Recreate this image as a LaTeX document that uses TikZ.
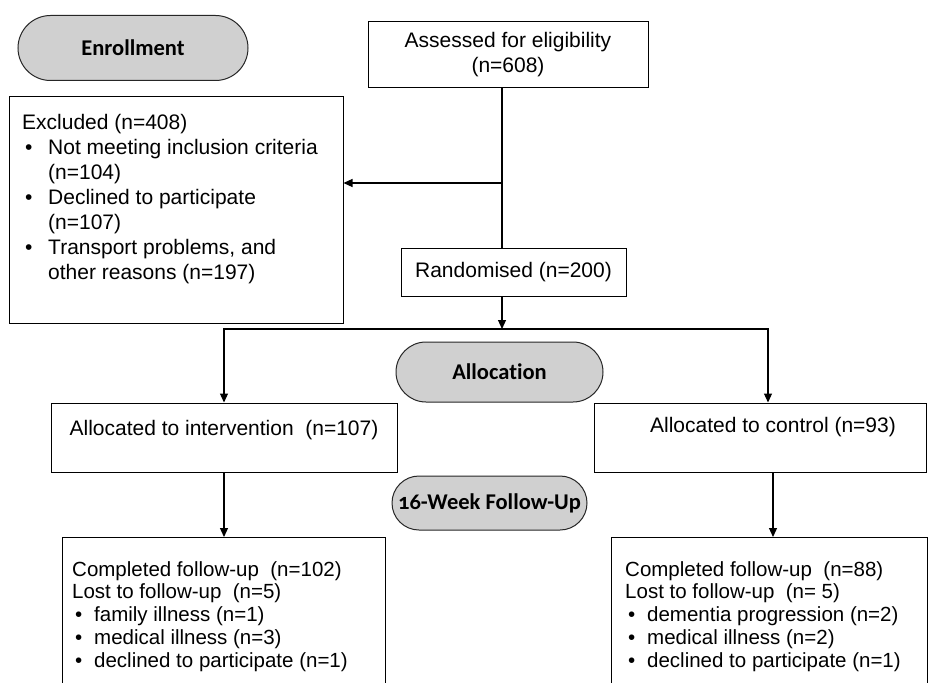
\documentclass[tikz,border=0pt]{standalone}
\usepackage{fontspec}
\setmainfont{Liberation Sans}
\newfontfamily\pillfont{Carlito}[Numbers=OldStyle,Ligatures=NoCommon]
\usetikzlibrary{arrows.meta,shapes.misc}
\definecolor{pillgray}{RGB}{208,208,208}
\newcommand{\bulA}{\makebox[26pt][l]{\hspace{3pt}•}}
\newcommand{\indA}{\hspace*{26pt}}
\newcommand{\bulB}{\makebox[22pt][l]{\hspace{3pt}•}}
\begin{document}
\begin{tikzpicture}[x=1pt,y=-1pt,
  box/.style={draw=black,line width=1pt,inner sep=0pt,font=\fontsize{21}{25}\selectfont},
  txt/.style={inner sep=0pt,font=\fontsize{21}{25}\selectfont},
  txtb/.style={inner sep=0pt,align=left,font=\fontsize{20.5}{22.8}\selectfont},
  pill/.style={rounded rectangle,draw=black!85,fill=pillgray,line width=1pt,inner sep=0pt,
    font=\pillfont\bfseries\fontsize{22.5}{26}\selectfont},
  ln/.style={line width=1.2pt},
  arr/.style={line width=1.2pt,-{Triangle[length=9pt,width=8pt]}}]
\clip (0,0) rectangle (928,682);
\fill[white] (0,0) rectangle (928,682);
% pills
\node[pill,minimum width=230pt,minimum height=65pt] (enr) at (133,48) {Enrollment};
\node[pill,minimum width=207pt,minimum height=60pt] (alc) at (499.5,372) {Allocation};
\node[pill,minimum width=195pt,minimum height=54pt] (fup) at (489.5,503) {16-Week Follow-Up};
% boxes
\node[box,minimum width=280pt,minimum height=66pt,align=center] (ass) at (508,55) {Assessed for eligibility\\(n=608)};
\node[box,minimum width=334pt,minimum height=226pt] (exc) at (176,210) {};
\node[txt,align=left,anchor=north west] (exct) at (22,114) {Excluded (n=408)\\
\bulA Not meeting inclusion criteria\\
\indA(n=104)\\
\bulA Declined to participate\\
\indA(n=107)\\
\bulA Transport problems, and\\
\indA other reasons (n=197)};
\node[box,minimum width=225pt,minimum height=48pt] (ran) at (513.5,272) {Randomised (n=200)};
\node[box,minimum width=346pt,minimum height=69pt] (int) at (224,437.5) {};
\node[txt] (intt) at (224,430) {Allocated to intervention~ (n=107)};
\node[box,minimum width=332pt,minimum height=69pt] (con) at (760,437.5) {};
\node[txt] (cont) at (773,427) {Allocated to control (n=93)};
\node[box,minimum width=323pt,minimum height=200pt,anchor=north west] (f1) at (62,537) {};
\node[txtb,anchor=north west] (f1t) at (72,561) {Completed follow-up~ (n=102)\\
Lost to follow-up~ (n=5)\\
\bulB family illness (n=1)\\
\bulB medical illness (n=3)\\
\bulB declined to participate (n=1)};
\node[box,minimum width=316pt,minimum height=200pt,anchor=north west] (f2) at (611,537) {};
\node[txtb,anchor=north west] (f2t) at (625,561) {Completed follow-up~ (n=88)\\
Lost to follow-up~ (n= 5)\\
\bulB dementia progression (n=2)\\
\bulB medical illness (n=2)\\
\bulB declined to participate (n=1)};
% connectors
\coordinate (vx) at (502,0);
\coordinate (split) at (502,183);
\coordinate (hl) at (224,329);
\coordinate (hr) at (768,329);
\coordinate (rx) at (773,0);
\draw[ln] (ass.south -| vx) -- (ran.north -| vx);
\draw[arr] (split) -- (split -| exc.east);
\draw[arr] (ran.south -| vx) -- (vx |- hl);
\draw[arr] (vx |- hl) -| (hl |- int.north);
\draw[arr] (vx |- hl) -| (hr |- con.north);
\draw[arr] (int.south) -- (f1.north -| int.south);
\draw[arr] (con.south -| rx) -- (f2.north -| rx);
\end{tikzpicture}
\end{document}
